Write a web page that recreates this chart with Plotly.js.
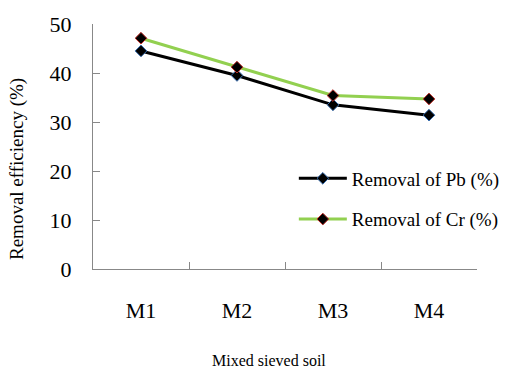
<!DOCTYPE html>
<html>
<head>
<meta charset="utf-8">
<script src="https://cdn.plot.ly/plotly-3.0.1.min.js"></script>
<style>
  html, body { margin: 0; padding: 0; background: #ffffff; }
  #chart { width: 508px; height: 369px; }
</style>
</head>
<body>
<div id="chart"></div>
<script>
// Soil samples and removal efficiencies (%)
const samples = ["M1", "M2", "M3", "M4"];
const removalPb = [44.5, 39.5, 33.5, 31.4];
const removalCr = [47.1, 41.2, 35.4, 34.7];
const yTicks = [0, 10, 20, 30, 40, 50];

const serif = "Liberation Serif";

const traces = [
  {
    x: samples, y: removalPb, name: "Removal of Pb (%)", legendgroup: "pb",
    type: "scatter", mode: "lines+markers",
    line: { color: "#000000", width: 3 },
    marker: { symbol: "diamond", size: 9, color: "#000000", line: { color: "#3a6fb0", width: 1 } }
  },
  {
    x: samples, y: removalCr, name: "Removal of Cr (%)", legendgroup: "cr",
    type: "scatter", mode: "lines+markers",
    line: { color: "#92d050", width: 3 },
    marker: { symbol: "diamond", size: 9, color: "#000000", line: { color: "#c0302a", width: 1 } }
  }
];

const layout = {
  width: 508, height: 369,
  margin: { l: 93, r: 31, t: 24, b: 100, autoexpand: false },
  paper_bgcolor: "#ffffff", plot_bgcolor: "#ffffff",
  font: { family: serif, color: "#000000" },
  showlegend: true,
  legend: {
    x: 0.523, y: 0.447, xanchor: "left", yanchor: "top",
    font: { family: serif, size: 19, color: "#000000" },
    bgcolor: "rgba(0,0,0,0)", itemwidth: 48, tracegroupgap: 13
  },
  xaxis: {
    type: "category", range: [-0.5, 3.5],
    tickson: "boundaries", ticks: "inside", ticklen: 7, tickcolor: "#888888",
    showline: true, linecolor: "#888888", linewidth: 1,
    showgrid: false, zeroline: false,
    tickfont: { family: serif, size: 22 }, ticklabelstandoff: 22
  },
  yaxis: {
    range: [0, 50], tickvals: yTicks,
    ticks: "inside", ticklen: 7, tickcolor: "#888888",
    showline: true, linecolor: "#888888", linewidth: 1,
    showgrid: false, zeroline: false,
    tickfont: { family: serif, size: 22 }, ticklabelstandoff: 16
  },
  annotations: [
    {
      text: "Removal efficiency (%)", xref: "paper", yref: "paper",
      x: (17 - 93) / 384, y: (269 - 169) / 245, xanchor: "center", yanchor: "middle",
      textangle: -90, showarrow: false, font: { family: serif, size: 19 }
    },
    {
      text: "Mixed sieved soil", xref: "paper", yref: "paper",
      x: (269 - 93) / 384, y: (269 - 360) / 245, xanchor: "center", yanchor: "middle",
      showarrow: false, font: { family: serif, size: 16 }
    }
  ]
};

Plotly.newPlot("chart", traces, layout, { displayModeBar: false, staticPlot: true });
</script>
</body>
</html>
